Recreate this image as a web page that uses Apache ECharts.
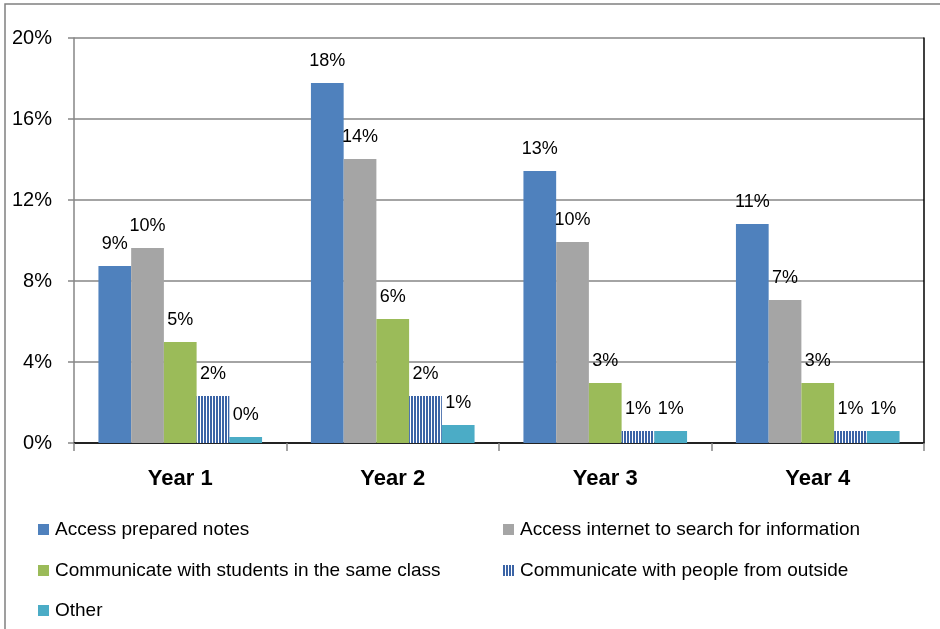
<!DOCTYPE html>
<html>
<head>
<meta charset="utf-8">
<script src="https://cdn.jsdelivr.net/npm/echarts@6/dist/echarts.min.js"></script>
<style>html,body{margin:0;padding:0;background:#fff;}#c{width:940px;height:629px;}</style>
</head>
<body>
<div id="c"></div>
<script>
const categories = ['Year 1', 'Year 2', 'Year 3', 'Year 4'];
const seriesNames = ['Access prepared notes', 'Access internet to search for information', 'Communicate with students in the same class', 'Communicate with people from outside', 'Other'];
const preparedNotes = [8.74, 17.78, 13.43, 10.81];
const internetSearch = [9.63, 14.02, 9.93, 7.06];
const sameClass = [4.99, 6.12, 2.96, 2.96];
const outsidePeople = [2.32, 2.32, 0.59, 0.59];
const other = [0.30, 0.89, 0.59, 0.59];
const yTicks = [0, 4, 8, 12, 16, 20];

const FONT = "'Liberation Sans', Arial, sans-serif";

// striped pattern
const pc = document.createElement('canvas');
pc.width = 3; pc.height = 10;
const pctx = pc.getContext('2d');
pctx.fillStyle = '#ffffff'; pctx.fillRect(0, 0, 3, 10);
pctx.fillStyle = '#3b64a6'; pctx.fillRect(0, 0, 2, 10);

const colors = ['#4f81bd', '#a5a5a5', '#9bbb59', {image: pc, repeat: 'repeat'}, '#4bacc6'];
const dataArr = [preparedNotes, internetSearch, sameClass, outsidePeople, other];

const series = dataArr.map((d, i) => ({
  name: seriesNames[i],
  type: 'bar',
  data: d,
  barGap: '0%',
  barCategoryGap: '23%',
  itemStyle: {color: colors[i]},
  label: {
    show: true, position: 'top', distance: 13,
    fontFamily: FONT, fontSize: 18, color: '#000',
    formatter: p => Math.round(p.value) + '%'
  }
}));

const legendPos = [
  {left: 38, top: 520},
  {left: 503, top: 520},
  {left: 38, top: 561},
  {left: 503, top: 561},
  {left: 38, top: 601}
];
const legends = seriesNames.map((n, i) => ({
  data: [n],
  left: legendPos[i].left, top: legendPos[i].top,
  itemWidth: 11, itemHeight: 11, itemGap: 0,
  icon: 'rect', padding: 0,
  selectedMode: false,
  textStyle: {fontFamily: FONT, fontSize: 19, color: '#000', padding: [0, 0, 0, 1]}
}));

const chart = echarts.init(document.getElementById('c'), null, {renderer: 'canvas'});
chart.setOption({
  animation: false,
  backgroundColor: '#fff',
  graphic: [{
    type: 'rect', shape: {x: 5, y: 4, width: 960, height: 660},
    style: {fill: 'none', stroke: '#808080', lineWidth: 1.5}, silent: true
  }],
  legend: legends,
  grid: {left: 74, right: 16, top: 38, bottom: 186, containLabel: false},
  xAxis: [{
    type: 'category', data: categories,
    axisLine: {lineStyle: {color: '#868686', width: 1.5}},
    axisTick: {show: true, length: 8, lineStyle: {color: '#868686', width: 1.5}},
    axisLabel: {margin: 25, fontFamily: FONT, fontSize: 22, fontWeight: 'bold', color: '#000'}
  }, {
    type: 'category', data: categories, position: 'top',
    axisLine: {lineStyle: {color: '#000', width: 1.5}},
    axisTick: {show: false}, axisLabel: {show: false}
  }],
  yAxis: [{
    type: 'value', min: 0, max: 20, interval: 4,
    axisLine: {show: true, lineStyle: {color: '#868686', width: 1.5}},
    axisTick: {show: true, length: 6, lineStyle: {color: '#868686', width: 1.5}},
    splitLine: {lineStyle: {color: '#868686', width: 1.5}},
    axisLabel: {margin: 22, fontFamily: FONT, fontSize: 20, color: '#000',
      formatter: v => (yTicks.indexOf(v) >= 0 ? v + '%' : '')}
  }, {
    type: 'value', min: 0, max: 20, interval: 4, position: 'right',
    axisLine: {show: true, lineStyle: {color: '#000', width: 1.5}},
    axisTick: {show: false}, axisLabel: {show: false}, splitLine: {show: false}
  }],
  series: series
});
</script>
</body>
</html>
